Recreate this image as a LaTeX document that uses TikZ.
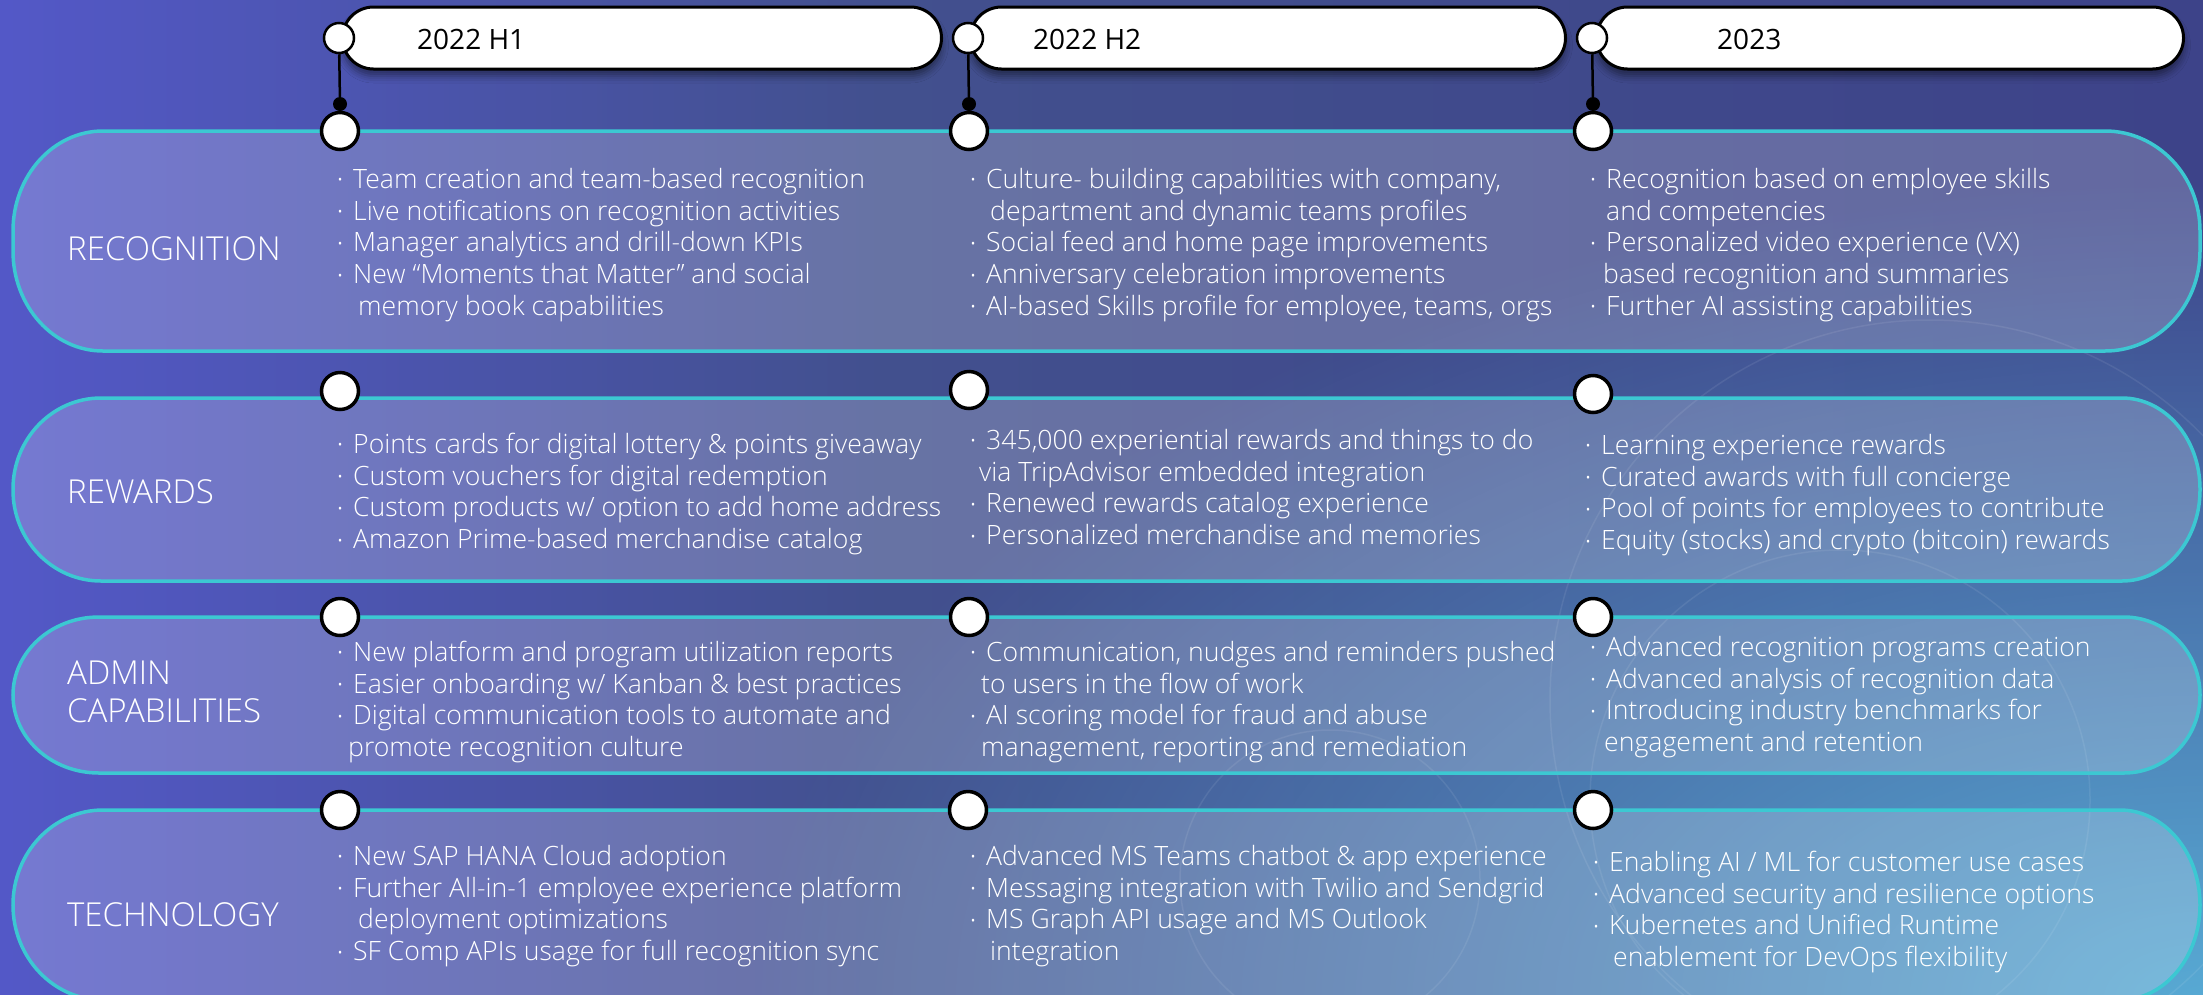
\documentclass[tikz,border=0pt]{standalone}
\usepackage{fontspec}
\setmainfont{Open Sans Light}
\newfontfamily\hdrfont{Open Sans}
\usetikzlibrary{shadows.blur,fadings,shapes.misc}
\definecolor{bgL}{HTML}{5C5CE4}
\definecolor{bgM}{HTML}{42508E}
\definecolor{bgR}{HTML}{3A3A86}
\definecolor{glowc}{HTML}{58AAD4}
\definecolor{bandline}{HTML}{3CC8D2}
\pgfdeclarehorizontalshading{bgsh}{100bp}{color(0bp)=(bgL); color(15bp)=(bgL); color(45bp)=(bgM); color(75bp)=(bgR!60!bgM); color(100bp)=(bgR)}
\tikzfading[name=glowfade, inner color=transparent!0, outer color=transparent!100]
\newcommand\bl{\makebox[16pt][l]{\raisebox{2.5pt}{\fontsize{16}{16}\selectfont •}}}
\newcommand\roadband[7]{% x0,y0,x1,y1,lrx,rrx,ry
  \path[bandsty] (#1+#5,#2) -- (#3-#6,#2)
    arc[start angle=90,end angle=0,x radius=#6pt,y radius=#7pt] -- (#3,#4-#7)
    arc[start angle=0,end angle=-90,x radius=#6pt,y radius=#7pt] -- (#1+#5,#4)
    arc[start angle=270,end angle=180,x radius=#5pt,y radius=#7pt] -- (#1,#2+#7)
    arc[start angle=180,end angle=90,x radius=#5pt,y radius=#7pt] -- cycle;}
\begin{document}
\begin{tikzpicture}[x=1pt,y=-1pt,
  bandsty/.style={fill=white,fill opacity=0.2,draw=bandline,line width=3.5pt},
  pill/.style={draw=black,fill=white,line width=3pt,rounded rectangle,minimum height=62pt,inner sep=0pt,anchor=west,
    blur shadow={shadow xshift=0pt,shadow yshift=-7pt,shadow blur radius=7pt,shadow opacity=45}},
  hcirc/.style={circle,draw=black,fill=white,line width=2.5pt,minimum size=30pt,inner sep=0pt},
  rcirc/.style={circle,draw=black,fill=white,line width=3.5pt,minimum size=37pt,inner sep=0pt},
  hdot/.style={circle,fill=black,minimum size=14pt,inner sep=0pt},
  conn/.style={draw=black,line width=2.5pt},
  hdr/.style={text=black,font=\hdrfont\fontsize{28}{34}\selectfont,anchor=base west,inner sep=0pt},
  lab/.style={text=white,font=\fontsize{33}{38}\selectfont,anchor=north west,inner sep=0pt,align=left},
  cell/.style={text=white,font=\fontsize{26.6}{31.8}\selectfont,anchor=north west,inner sep=0pt,align=left}]
\useasboundingbox (0,0) rectangle (2203,994);
% background
\shade[shading=bgsh] (0,0) rectangle (2203,994);
\fill[glowc,path fading=glowfade] (2203,1000) ellipse[x radius=1450pt,y radius=820pt];
\begin{scope}[draw=white,draw opacity=0.08,line width=1.5pt]
  \draw (1840,800) circle[radius=250pt];
  \draw (1930,700) circle[radius=380pt];
  \draw (1330,880) circle[radius=150pt];
\end{scope}
% bands
\roadband{13}{131}{2200}{351}{90}{95}{100}
\roadband{13}{398}{2200}{581}{88}{78}{91}
\roadband{13}{617}{2200}{773}{86}{76}{78}
\roadband{13}{810}{2200}{1000}{90}{80}{95}
% header pills
\node[pill,minimum width=599pt] (p1) at (341,38) {};
\node[pill,minimum width=595pt] (p2) at (969,38) {};
\node[pill,minimum width=587pt] (p3) at (1595,38) {};
\node[hdr] (t1) at (417,49) {2022 H1};
\node[hdr] (t2) at (1033,49) {2022 H2};
\node[hdr] (t3) at (1717,49) {2023};
\node[hcirc] (h1) at (339,38) {};
\node[hcirc] (h2) at (968,38) {};
\node[hcirc] (h3) at (1592,38) {};
\node[hdot] (d1) at (340,104) {};
\node[hdot] (d2) at (969,104) {};
\node[hdot] (d3) at (1593,104) {};
% row circles
\node[rcirc] (c11) at (340,131) {};
\node[rcirc] (c12) at (969,131) {};
\node[rcirc] (c13) at (1593,131) {};
\node[rcirc] (c21) at (340,391) {};
\node[rcirc] (c22) at (969,390) {};
\node[rcirc] (c23) at (1593,394) {};
\node[rcirc] (c31) at (340,617) {};
\node[rcirc] (c32) at (969,617) {};
\node[rcirc] (c33) at (1593,617) {};
\node[rcirc] (c41) at (340,810) {};
\node[rcirc] (c42) at (968,810) {};
\node[rcirc] (c43) at (1593,810) {};
\draw[conn] (h1) -- (d1) -- (c11);
\draw[conn] (h2) -- (d2) -- (c12);
\draw[conn] (h3) -- (d3) -- (c13);
% labels
\node[lab] (l1) at (67,230) {\rule{0pt}{30pt}RECOGNITION};
\node[lab] (l2) at (67,473) {\rule{0pt}{30pt}REWARDS};
\node[lab] (l3) at (67,654) {\rule{0pt}{30pt}ADMIN\\CAPABILITIES};
\node[lab] (l4) at (67,896) {\rule{0pt}{30pt}TECHNOLOGY};
% cells
\node[cell] (x11) at (337,163) {\rule{0pt}{25pt}\bl Team creation and team-based recognition\\\bl Live notifications on recognition activities\\\bl Manager analytics and drill-down KPIs\\\bl New “Moments that Matter” and social\\\hspace*{21pt}memory book capabilities};
\node[cell] (x12) at (970,163) {\rule{0pt}{25pt}\bl Culture- building capabilities with company,\\\hspace*{20pt}department and dynamic teams profiles\\\bl Social feed and home page improvements\\\bl Anniversary celebration improvements\\\bl AI-based Skills profile for employee, teams, orgs};
\node[cell] (x13) at (1590,163) {\rule{0pt}{25pt}\bl Recognition based on employee skills\\\hspace*{16pt}and competencies\\\bl Personalized video experience (VX)\\\hspace*{13pt}based recognition and summaries\\\bl Further AI assisting capabilities};
\node[cell] (x21) at (337,428) {\rule{0pt}{25pt}\bl Points cards for digital lottery \& points giveaway\\\bl Custom vouchers for digital redemption\\\bl Custom products w/ option to add home address\\\bl Amazon Prime-based merchandise catalog};
\node[cell] (x22) at (970,424) {\rule{0pt}{25pt}\bl 345,000 experiential rewards and things to do\\\hspace*{9pt}via TripAdvisor embedded integration\\\bl Renewed rewards catalog experience\\\bl Personalized merchandise and memories};
\node[cell] (x23) at (1585,429) {\rule{0pt}{25pt}\bl Learning experience rewards\\\bl Curated awards with full concierge\\\bl Pool of points for employees to contribute\\\bl Equity (stocks) and crypto (bitcoin) rewards};
\node[cell] (x31) at (337,636) {\rule{0pt}{25pt}\bl New platform and program utilization reports\\\bl Easier onboarding w/ Kanban \& best practices\\\bl Digital communication tools to automate and\\\hspace*{11pt}promote recognition culture};
\node[cell] (x32) at (970,636) {\rule{0pt}{25pt}\bl Communication, nudges and reminders pushed\\\hspace*{11pt}to users in the flow of work\\\bl AI scoring model for fraud and abuse\\\hspace*{11pt}management, reporting and remediation};
\node[cell] (x33) at (1590,631) {\rule{0pt}{25pt}\bl Advanced recognition programs creation\\\bl Advanced analysis of recognition data\\\bl Introducing industry benchmarks for\\\hspace*{14pt}engagement and retention};
\node[cell] (x41) at (337,840) {\rule{0pt}{25pt}\bl New SAP HANA Cloud adoption\\\bl Further All-in-1 employee experience platform\\\hspace*{21pt}deployment optimizations\\\bl SF Comp APIs usage for full recognition sync};
\node[cell] (x42) at (970,840) {\rule{0pt}{25pt}\bl Advanced MS Teams chatbot \& app experience\\\bl Messaging integration with Twilio and Sendgrid\\\bl MS Graph API usage and MS Outlook\\\hspace*{20pt}integration};
\node[cell] (x43) at (1593,846) {\rule{0pt}{25pt}\bl Enabling AI / ML for customer use cases\\\bl Advanced security and resilience options\\\bl Kubernetes and Unified Runtime\\\hspace*{20pt}enablement for DevOps flexibility};
\end{tikzpicture}
\end{document}
